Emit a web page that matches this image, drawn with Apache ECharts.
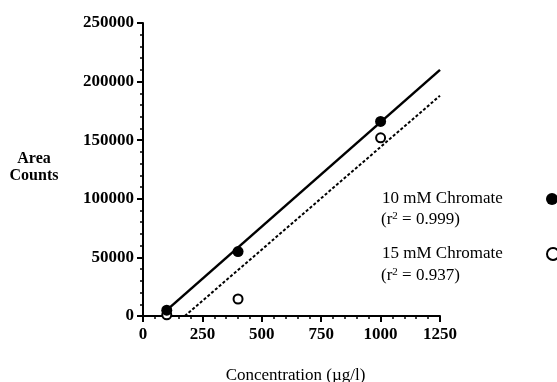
<!DOCTYPE html>
<html>
<head>
<meta charset="utf-8">
<script src="https://cdn.jsdelivr.net/npm/echarts@6/dist/echarts.min.js"></script>
<style>
  html, body { margin: 0; padding: 0; background: #fff; }
  #chart { width: 557px; height: 382px; }
</style>
</head>
<body>
<div id="chart"></div>
<script>
// measured points (concentration in ug/l, area counts)
const conc = [100, 400, 1000]
const chromate10 = [5000, 55000, 166000]
const chromate15 = [1000, 14500, 152000]

// regression lines, end points
const fit10 = [[100, 5000], [1250, 210000]]
const fit15 = [[176, 0], [1250, 188000]]

const xTicks = [0, 250, 500, 750, 1000, 1250]
const yTicks = [0, 50000, 100000, 150000, 200000, 250000]

const seriesNames = ['10 mM Chromate', '15 mM Chromate']
const r2 = ['0.999', '0.937']

const font = "'Liberation Serif', 'DejaVu Serif', serif"

const chart = echarts.init(document.getElementById('chart'))

const axisCommon = {
  type: 'value',
  axisLine: { show: true, lineStyle: { color: '#000', width: 2 } },
  axisTick: { show: true, length: 6, lineStyle: { color: '#000', width: 2 } },
  minorTick: { show: true, splitNumber: 5, length: 3, lineStyle: { color: '#000', width: 1.5 } },
  splitLine: { show: false },
  axisLabel: { color: '#000', fontFamily: font, fontSize: 17, fontWeight: 'bold', formatter: v => String(v) }
}

// legend only draws the two marker icons at the right edge, names are placed as text
const legendCommon = {
  left: 546,
  padding: 0,
  itemWidth: 12,
  itemHeight: 12,
  itemGap: 0,
  formatter: () => '',
  selectedMode: false
}

const option = {
  animation: false,
  backgroundColor: '#fff',
  grid: { left: 143, right: 117, top: 23, bottom: 66, outerBoundsMode: 'none' },
  xAxis: {
    ...axisCommon,
    min: xTicks[0],
    max: xTicks[xTicks.length - 1],
    interval: 250,
    axisLabel: { ...axisCommon.axisLabel, margin: 10 },
    name: 'Concentration (µg/l)',
    nameLocation: 'middle',
    nameGap: 51,
    nameTextStyle: { color: '#000', fontFamily: font, fontSize: 17, padding: [0, 0, 0, 8] }
  },
  yAxis: {
    ...axisCommon,
    min: yTicks[0],
    max: yTicks[yTicks.length - 1],
    interval: 50000,
    axisLabel: { ...axisCommon.axisLabel, margin: 9 }
  },
  legend: [
    { ...legendCommon, top: 193, data: [seriesNames[0]] },
    { ...legendCommon, top: 247, data: [seriesNames[1]] }
  ],
  graphic: [
    {
      type: 'text', x: 34, y: 150,
      style: { text: 'Area\nCounts', font: 'bold 16px ' + font, fill: '#000', align: 'center', verticalAlign: 'top', lineHeight: 17 }
    },
    ...seriesNames.map((name, i) => ({
      type: 'text', x: 382, y: 199 + i * 55,
      style: { text: name, font: '17px ' + font, fill: '#000', verticalAlign: 'middle' }
    })),
    ...r2.map((v, i) => ({
      type: 'text', left: 381, top: 211 + i * 56,
      style: {
        text: '(r{s|2} = ' + v + ')',
        fill: '#000',
        font: '17px ' + font,
        rich: { s: { fontSize: 11, fontFamily: font, fill: '#000', padding: [0, 0, 7, 0] } }
      }
    }))
  ],
  series: [
    {
      type: 'line',
      data: fit10,
      symbol: 'none',
      lineStyle: { color: '#000', width: 2.5 },
      silent: true
    },
    {
      type: 'line',
      data: fit15,
      symbol: 'none',
      lineStyle: { color: '#000', width: 2, type: [3, 2] },
      silent: true
    },
    {
      name: seriesNames[1],
      type: 'scatter',
      data: conc.map((x, i) => [x, chromate15[i]]),
      symbol: 'circle',
      symbolSize: 9,
      itemStyle: { color: '#fff', borderColor: '#000', borderWidth: 2, opacity: 1 },
      z: 3
    },
    {
      name: seriesNames[0],
      type: 'scatter',
      data: conc.map((x, i) => [x, chromate10[i]]),
      symbol: 'circle',
      symbolSize: 11,
      itemStyle: { color: '#000', opacity: 1 },
      z: 4
    }
  ]
}

chart.setOption(option)
</script>
</body>
</html>
